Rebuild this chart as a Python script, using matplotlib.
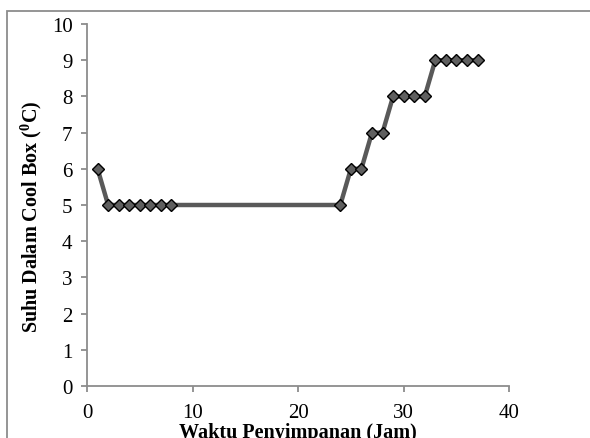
import matplotlib
matplotlib.use("Agg")
from matplotlib import pyplot as plt
from matplotlib.patches import Rectangle

# waktu penyimpanan (jam) dan suhu dalam cool box
jam = [1, 2, 3, 4, 5, 6, 7, 8, 24, 25, 26, 27, 28, 29, 30, 31, 32, 33, 34, 35, 36, 37]
suhu = [6, 5, 5, 5, 5, 5, 5, 5, 5, 6, 6, 7, 7, 8, 8, 8, 8, 9, 9, 9, 9, 9]

xticks = [0, 10, 20, 30, 40]
yticks = list(range(0, 11))

plt.rcParams['font.family'] = ['Liberation Serif', 'DejaVu Serif']

fig = plt.figure(figsize=(5.9, 4.39), dpi=100)
ax = fig.add_axes([0.1475, 0.1185, 0.7155, 0.8245])

# outer chart border (cut at right/bottom like the reference)
border = Rectangle((0.012, -0.05), 1.2, 0.9727 + 0.05, transform=fig.transFigure,
                   fill=False, edgecolor='#8c8c8c', linewidth=1.3, clip_on=False)
fig.patches.append(border)

ax.plot(jam, suhu, color='#595959', linewidth=3.2, marker='D', markersize=6.5,
        markerfacecolor='#5f5f5f', markeredgecolor='black', markeredgewidth=1.0,
        solid_joinstyle='miter')

ax.set_xlim(0, 40)
ax.set_ylim(0, 10)
ax.set_xticks(xticks)
ax.set_yticks(yticks)

for s in ['top', 'right']:
    ax.spines[s].set_visible(False)
for s in ['left', 'bottom']:
    ax.spines[s].set_color('#8c8c8c')
    ax.spines[s].set_linewidth(1.3)
ax.tick_params(axis='both', colors='#8c8c8c', length=4.5, width=1.3, labelsize=15,
               labelcolor='black', direction='out')
ax.tick_params(axis='x', pad=8)
ax.tick_params(axis='y', pad=6)

ax.set_xlabel('Waktu Penyimpanan (Jam)', fontsize=14.5, fontweight='bold')
ax.set_ylabel('Suhu Dalam Cool Box ($\\mathregular{^0}$C)', fontsize=14.5, fontweight='bold')
ax.xaxis.set_label_coords(0.5, -0.1)
ax.yaxis.set_label_coords(-0.102, 0.47)

plt.savefig('out.png', dpi=100)
